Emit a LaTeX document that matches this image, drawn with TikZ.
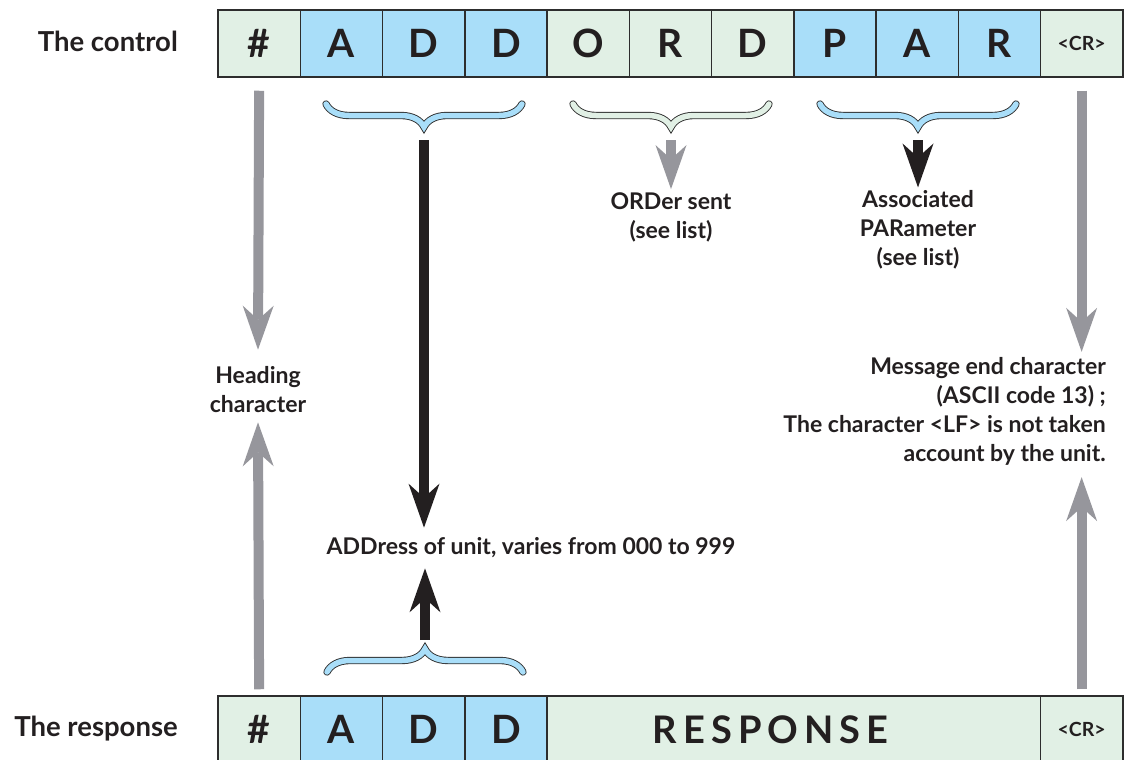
\documentclass[tikz,border=0pt]{standalone}
\usepackage{fontspec}
\setmainfont{Lato}
\usetikzlibrary{arrows.meta,decorations.pathreplacing,calc}
\definecolor{cellgreen}{RGB}{225,240,229}
\definecolor{cellblue}{RGB}{169,222,249}
\definecolor{framegray}{RGB}{45,45,45}
\definecolor{arrowgray}{RGB}{150,150,156}
\definecolor{inkblack}{RGB}{35,31,32}
\tikzset{
  cell/.style={draw=framegray,line width=1.5pt,minimum width=82.25pt,minimum height=67pt,inner sep=0pt,text=inkblack,font=\fontsize{39}{39}\selectfont\bfseries},
  crcell/.style={cell,font=\fontsize{19.5}{19.5}\selectfont\bfseries},
  txt/.style={inner sep=0pt,text=inkblack,align=center,font=\fontsize{23}{29}\selectfont\bfseries},
  rowlabel/.style={inner sep=0pt,text=inkblack,anchor=east,font=\fontsize{27.5}{27.5}\selectfont\bfseries},
  grayarrow/.style={arrowgray,line width=10pt,-{Stealth[length=44pt,width=31pt,inset=14pt,line width=0pt]}},
  blackarrow/.style={inkblack,line width=10pt,-{Stealth[length=44pt,width=31pt,inset=14pt,line width=0pt]}},
  curly/.style={decorate,decoration={brace,amplitude=23pt},draw=framegray,line width=0.9pt,double distance=5.5pt,line cap=round}
}
\begin{document}
\begin{tikzpicture}[x=1pt,y=-1pt]
\useasboundingbox (0,0) rectangle (1125,760);
\foreach \ch/\col [count=\i from 0] in {\#/cellgreen,A/cellblue,D/cellblue,D/cellblue,O/cellgreen,R/cellgreen,D/cellgreen,P/cellblue,A/cellblue,R/cellblue}
  \node[cell,fill=\col] (t\i) at ({218+82.25*(\i+0.5)},43.5) {\ch};
\node[crcell,fill=cellgreen] (t10) at ({218+82.25*10.5},43.5) {<CR>};
\foreach \ch/\col [count=\i from 0] in {\#/cellgreen,A/cellblue,D/cellblue,D/cellblue}
  \node[cell,fill=\col] (b\i) at ({218+82.25*(\i+0.5)},729.5) {\ch};
\node[cell,fill=cellgreen,minimum width=493.5pt] (b4) at ({218+82.25*4+246.75},729.5) {};
\node[cell,draw=none,anchor=west,font=\fontsize{38}{38}\selectfont\bfseries\addfontfeature{LetterSpace=16}] (resp) at (652,729.5) {RESPONSE};
\node[crcell,fill=cellgreen] (b5) at ({218+82.25*10.5},729.5) {<CR>};
\node[rowlabel] (control) at (178,41) {The control};
\node[rowlabel] (response) at (178,729) {The response};
\draw[curly,double=cellblue] (522,104) -- (326,104);
\draw[curly,double=cellgreen] (769,104) -- (573,104);
\draw[curly,double=cellblue] (1016,104) -- (820,104);
\draw[curly,double=cellblue] (327,672) -- (523,672);
\coordinate (addtip) at (424,128);
\coordinate (ordtip) at (671,128);
\coordinate (partip) at (918,128);
\coordinate (resptip) at (425,650);
\node[txt] (heading) at (258,390) {Heading\\character};
\node[txt] (order) at (671,217) {ORDer sent\\(see list)};
\node[txt] (param) at (918,230) {Associated\\PARameter\\(see list)};
\node[txt] (addr) at (531,548) {ADDress of unit, varies from 000 to 999};
\node[txt,align=right,anchor=east] (msgend) at (1106,411) {Message end character\\(ASCII code 13) ;\\The character <LF> is not taken\\account by the unit.};
\draw[grayarrow] ([yshift=-13pt]t0.south) -- ([yshift=17pt]heading.north);
\draw[grayarrow] ([yshift=6pt]b0.north) -- ([yshift=-9pt]heading.south);
\draw[grayarrow] ([yshift=-13pt]t10.south) -- ([yshift=5pt]msgend.north -| t10.south);
\draw[grayarrow] ([yshift=6pt]b5.north) -- ([yshift=-12pt]msgend.south -| b5.north);
\draw[grayarrow] ([yshift=-12pt]ordtip) -- ([yshift=3pt]order.north);
\draw[blackarrow] ([yshift=-12pt]partip) -- ([yshift=3pt]param.north);
\draw[blackarrow] ([yshift=-12pt]addtip) -- ([yshift=10pt]addr.north -| addtip);
\draw[blackarrow] ([yshift=10pt]resptip) -- ([yshift=-10pt]addr.south -| resptip);
\end{tikzpicture}
\end{document}
